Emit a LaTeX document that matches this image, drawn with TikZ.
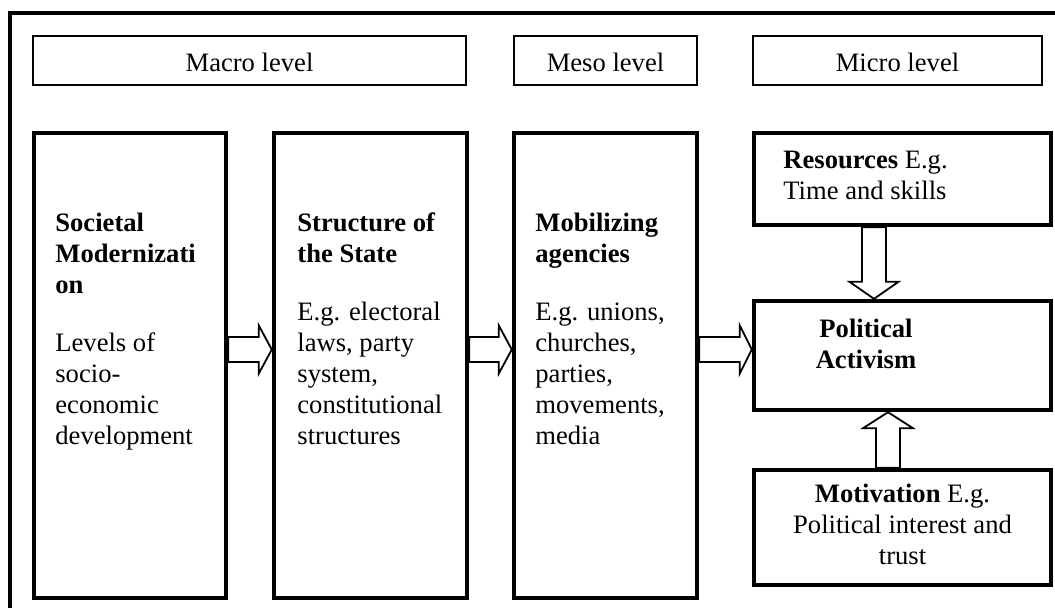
\documentclass[tikz,border=0pt]{standalone}
\usepackage{fontspec}
\setmainfont{Liberation Serif}
\usetikzlibrary{calc}
\tikzset{
  thickbox/.style={draw, line width=2.2pt, inner sep=0pt},
  hdrbox/.style={draw, line width=1pt, inner sep=0pt},
  frameline/.style={line width=2pt},
  txtl/.style={inner sep=0pt, align=left, anchor=base west},
  txtc/.style={inner sep=0pt, align=center, anchor=base},
  arrowline/.style={draw, line width=0.9pt, fill=white, line join=miter}
}
\newcommand\myblockarrow[5]{%
  \coordinate (hb) at ($(#2)!#5!(#1)$);
  \draw[arrowline] ($(#1)!#3!90:(#2)$) -- ($(hb)!#3!90:(#2)$) -- ($(hb)!#4!90:(#2)$) -- (#2)
     -- ($(hb)!#4!-90:(#2)$) -- ($(hb)!#3!-90:(#2)$) -- ($(#1)!#3!-90:(#2)$) -- cycle;
}
\begin{document}
\begin{tikzpicture}[x=0.5pt,y=-0.5pt,font=\fontsize{13.3pt}{15.5pt}\selectfont]
\useasboundingbox (0,0) rectangle (1055,607);
% outer frame (extends beyond the visible area)
\draw[frameline] (10,13) rectangle (1075,630);
% headers
\node[hdrbox, minimum width=216.5pt, minimum height=24.5pt] (hmacro) at (249.5,60.5) {};
\node[hdrbox, minimum width=91.5pt, minimum height=24.5pt] (hmeso) at (605.5,60.5) {};
\node[hdrbox, minimum width=144.5pt, minimum height=24.5pt] (hmicro) at (897.5,60.5) {};
\node[txtc] (tmacro) at ($(hmacro.center)+(0,11)$) {Macro level};
\node[txtc] (tmeso) at ($(hmeso.center)+(0,11)$) {Meso level};
\node[txtc] (tmicro) at ($(hmicro.center)+(0,11)$) {Micro level};
% big boxes
\node[thickbox, minimum width=96pt, minimum height=232.5pt] (b1) at (130,365.5) {};
\node[thickbox, minimum width=96.5pt, minimum height=232.5pt] (b2) at (370.5,365.5) {};
\node[thickbox, minimum width=91.5pt, minimum height=232.5pt] (b3) at (605.5,365.5) {};
\node[thickbox, minimum width=148.5pt, minimum height=46pt] (res) at (902.5,179) {};
\node[thickbox, minimum width=148.5pt, minimum height=54.5pt] (pol) at (902.5,355.5) {};
\node[thickbox, minimum width=148.5pt, minimum height=57.5pt] (mot) at (902.5,527.5) {};
% texts (anchor = baseline of the last line)
\node[txtl] (t1) at (55,444) {\textbf{Societal}\\\textbf{Modernizati}\\\textbf{on}\\[13.5pt]Levels of\\socio-\\economic\\development};
\node[txtl] (t2) at (297,444) {\textbf{Structure of}\\\textbf{the State}\\[13.5pt]E.g. electoral\\laws, party\\system,\\constitutional\\structures};
\node[txtl] (t3) at (535,444) {\textbf{Mobilizing}\\\textbf{agencies}\\[13.5pt]E.g. unions,\\churches,\\parties,\\movements,\\media};
\node[txtl] (tres) at (783,199) {\textbf{Resources} E.g.\\Time and skills};
\node[txtc] (tpol) at (866,368) {\textbf{Political}\\\textbf{Activism}};
\node[txtc] (tmot) at (902.5,564) {\textbf{Motivation} E.g.\\Political interest and\\trust};
% arrows
\coordinate (ya) at (0,349.5);
\coordinate (a1s) at (b1.east |- ya);
\coordinate (a1e) at (b2.west |- ya);
\coordinate (a2s) at (b2.east |- ya);
\coordinate (a2e) at (b3.west |- ya);
\coordinate (a3s) at (b3.east |- ya);
\coordinate (a3e) at (pol.west |- ya);
\coordinate (xd) at (874,0);
\coordinate (a4s) at (res.south -| xd);
\coordinate (a4e) at (pol.north -| xd);
\coordinate (xu) at (888,0);
\coordinate (a5s) at (mot.north -| xu);
\coordinate (a5e) at (pol.south -| xu);
\myblockarrow{a1s}{a1e}{6.25pt}{12pt}{6.5pt}
\myblockarrow{a2s}{a2e}{6.25pt}{12pt}{6.5pt}
\myblockarrow{a3s}{a3e}{6.25pt}{12pt}{6pt}
\myblockarrow{a4s}{a4e}{6pt}{12.25pt}{8.5pt}
\myblockarrow{a5s}{a5e}{6pt}{12.5pt}{8pt}
\end{tikzpicture}
\end{document}
